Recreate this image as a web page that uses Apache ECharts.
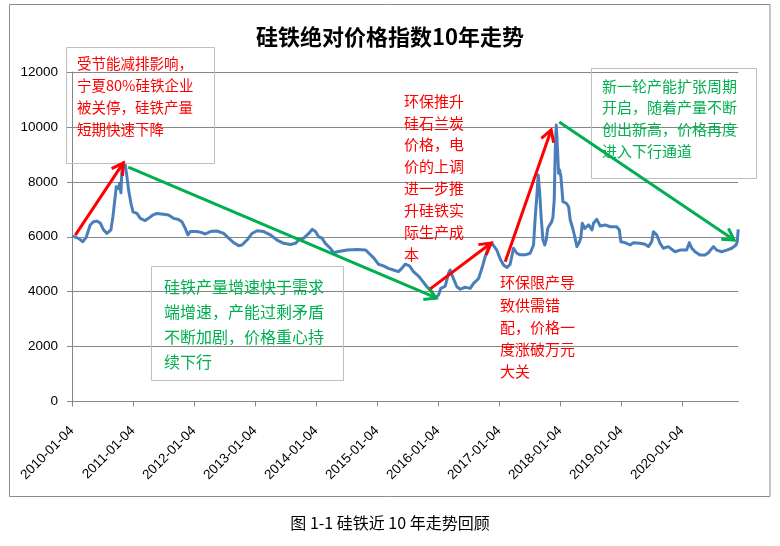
<!DOCTYPE html>
<html><head><meta charset="utf-8">
<script src="https://cdn.jsdelivr.net/npm/echarts@6/dist/echarts.min.js"></script>
<style>html,body{margin:0;padding:0;background:#fff}#c{width:780px;height:546px}</style>
</head><body><div id="c"></div>
<script>
// ---- data ----
const dates = [
'2010-01-04','2010-02-12','2010-03-10','2010-03-30','2010-04-23','2010-05-13','2010-06-02','2010-06-22','2010-07-12','2010-08-01',
'2010-08-25','2010-09-06','2010-09-14','2010-09-22','2010-09-26','2010-10-10','2010-10-16','2010-10-24','2010-10-30','2010-11-09',
'2010-11-19','2010-11-29','2010-12-09','2010-12-23','2011-01-04','2011-01-28','2011-02-17','2011-03-18','2011-04-07','2011-05-03',
'2011-05-27','2011-07-06','2011-08-05','2011-09-04','2011-10-04','2011-10-24','2011-11-13','2011-11-29','2011-12-13','2012-01-22',
'2012-02-21','2012-03-12','2012-04-11','2012-05-21','2012-06-30','2012-07-30','2012-08-29','2012-09-28','2012-10-18','2012-11-17',
'2012-12-17','2013-01-16','2013-02-25','2013-04-06','2013-05-16','2013-06-25','2013-08-04','2013-09-03','2013-09-23','2013-10-23',
'2013-11-22','2013-12-12','2014-01-01','2014-01-20','2014-02-09','2014-03-01','2014-03-31','2014-04-20','2014-05-20','2014-07-09',
'2014-09-08','2014-10-28','2014-11-17','2014-12-17','2015-01-13','2015-02-12','2015-03-14','2015-04-13','2015-05-13','2015-06-02',
'2015-06-22','2015-07-18','2015-08-11','2015-09-10','2015-09-30','2015-10-30','2015-11-29','2015-12-19','2016-01-08','2016-01-22',
'2016-02-17','2016-03-08','2016-03-18','2016-03-28','2016-04-07','2016-04-27','2016-05-17','2016-06-16','2016-07-16','2016-08-05',
'2016-09-04','2016-09-24','2016-10-14','2016-11-03','2016-11-22','2016-12-23','2017-01-11','2017-01-31','2017-02-21','2017-03-12',
'2017-04-01','2017-04-21','2017-05-11','2017-06-10','2017-07-10','2017-07-30','2017-08-09','2017-08-19','2017-08-27','2017-09-05',
'2017-09-14','2017-09-24','2017-10-05','2017-10-14','2017-10-23','2017-11-04','2017-11-16','2017-11-23','2017-12-01','2017-12-07',
'2017-12-13','2017-12-21','2017-12-27','2018-01-02','2018-01-10','2018-01-22','2018-02-11','2018-02-25','2018-03-07','2018-03-22',
'2018-04-03','2018-04-16','2018-04-30','2018-05-09','2018-05-18','2018-06-02','2018-06-11','2018-06-25','2018-07-15','2018-07-24',
'2018-08-13','2018-09-02','2018-10-02','2018-11-01','2018-12-10','2018-12-26','2019-01-04','2019-01-29','2019-02-28','2019-03-20',
'2019-04-29','2019-05-29','2019-06-18','2019-07-08','2019-07-18','2019-08-07','2019-08-27','2019-09-15','2019-10-15','2019-11-24',
'2019-12-24','2020-02-02','2020-02-18','2020-03-04','2020-03-23','2020-04-22','2020-05-22','2020-06-11','2020-07-11','2020-07-31',
'2020-08-30','2020-09-29','2020-10-29','2020-11-24','2020-12-01','2020-12-07'
];
const values = [
6030,5940,5820,5980,6430,6550,6570,6500,6250,6120,
6250,6730,7160,7580,7820,7760,7950,7600,8430,8700,
8610,8190,7700,7220,6910,6850,6670,6590,6670,6790,
6850,6820,6790,6670,6630,6550,6310,6070,6190,6190,
6150,6100,6190,6210,6120,5950,5790,5670,5700,5880,
6120,6220,6190,6070,5880,5760,5720,5760,5880,5950,
6120,6270,6190,6000,5950,5760,5580,5420,5460,5520,
5540,5520,5400,5220,5000,4940,4850,4790,4730,4850,
5000,4940,4730,4570,4420,4180,4000,3760,3880,4120,
4200,4670,4790,4610,4540,4180,4090,4160,4120,4300,
4480,4850,5280,5640,5770,5500,5200,4970,4880,5000,
5580,5400,5340,5340,5400,5700,6700,7500,8250,7600,
6700,5900,5700,5880,6300,6430,6550,6700,7340,9160,
10070,9160,8310,8430,8190,7280,7220,7100,6610,6300,
6000,5640,5800,5950,6490,6300,6250,6430,6250,6490,
6635,6390,6430,6365,6365,6245,5820,5785,5700,5785,
5760,5725,5640,5820,6185,6065,5760,5580,5640,5455,
5515,5515,5785,5580,5455,5335,5335,5420,5640,5515,
5455,5515,5580,5700,5820,6270
];
const xTickLabels = ['2010-01-04','2011-01-04','2012-01-04','2013-01-04','2014-01-04','2015-01-04',
                     '2016-01-04','2017-01-04','2018-01-04','2019-01-04','2020-01-04'];
const titleText = '硅铁绝对价格指数10年走势';
const captionText = '图 1-1 硅铁近 10 年走势回顾';

// ---- helpers ----
const DAY = 86400000, T0 = Date.UTC(2010, 0, 4);
function toT(d){ const p = d.split('-').map(Number); return (Date.UTC(p[0], p[1]-1, p[2]) - T0) / (365.25*DAY); }
const seriesData = dates.map((d, i) => [toT(d), values[i]]);
const tickValues = xTickLabels.map((s, i) => i);

const FONT = "'Noto Sans CJK SC', sans-serif";
const RED = '#ff0000', GREEN = '#00b050';

const chart = echarts.init(document.getElementById('c'), null, {renderer: 'canvas'});
const option = {
  backgroundColor: '#fff',
  animation: false,
  title: {
    text: titleText, left: 'center', top: 26, padding: 0,
    textStyle: {fontSize: 22, fontWeight: 'bold', color: '#000', fontFamily: FONT}
  },
  grid: {left: 72, right: 41.7, top: 72, bottom: 144.5, containLabel: false},
  xAxis: {
    type: 'value', min: 0, max: 10.925, interval: 1,
    axisLine: {show: true, lineStyle: {color: '#868686', width: 1}},
    axisTick: {show: true, length: 5, lineStyle: {color: '#868686'}, customValues: tickValues},
    axisLabel: {
      customValues: tickValues, rotate: 45, margin: 27, fontSize: 13.5, color: '#000',
      fontFamily: "'Liberation Sans', Arial, sans-serif",
      formatter: v => xTickLabels[Math.round(v)] || ''
    },
    splitLine: {show: false}
  },
  yAxis: {
    type: 'value', min: 0, max: 12000, interval: 2000,
    axisLine: {show: true, lineStyle: {color: '#868686', width: 1}},
    axisTick: {show: true, length: 5, lineStyle: {color: '#868686'}},
    axisLabel: {margin: 14, fontSize: 13.5, color: '#000', fontFamily: "'Liberation Sans', Arial, sans-serif",
      formatter: v => String(v)},
    splitLine: {show: true, lineStyle: {color: '#868686', width: 1}}
  },
  series: [{
    type: 'line', data: seriesData, showSymbol: false, symbol: 'none',
    lineStyle: {color: '#4a7ebb', width: 3, join: 'round'}, z: 3
  }]
};
chart.setOption(option);

// ---- annotations ----
const arrows = [
  {from: [0.054, 6060], to: [0.841, 8690], color: RED},
  {from: [0.923, 8540], to: [5.972, 3770], color: GREEN},
  {from: [5.874, 4100], to: [6.874, 5770], color: RED},
  {from: [7.103, 5090], to: [7.857, 9890], color: RED},
  {from: [7.989, 10180], to: [10.857, 5880], color: GREEN}
];
const graphics = [];
graphics.push({type: 'rect', shape: {x: 9.5, y: 4.5, width: 760.5, height: 492}, style: {fill: 'none', stroke: '#8c8c8c', lineWidth: 1}, z: 1});
arrows.forEach(a => {
  const s = chart.convertToPixel({gridIndex: 0}, a.from);
  const p = chart.convertToPixel({gridIndex: 0}, a.to);
  const dx = p[0]-s[0], dy = p[1]-s[1], L = Math.hypot(dx, dy);
  const ux = dx/L, uy = dy/L, hl = 13, ang = Math.PI/6;
  const h = sgn => {
    const c = Math.cos(sgn*ang), sn = Math.sin(sgn*ang);
    const rx = ux*c - uy*sn, ry = ux*sn + uy*c;
    return [p[0] - hl*rx, p[1] - hl*ry];
  };
  graphics.push({type: 'polyline', shape: {points: [s, p]}, style: {stroke: a.color, lineWidth: 3, fill: null}, z: 10});
  graphics.push({type: 'polyline', shape: {points: [h(1), p, h(-1)]}, style: {stroke: a.color, lineWidth: 3, fill: null, lineJoin: 'miter'}, z: 10});
});
const boxes = [
  {x: 66.5, y: 47.5, w: 148, h: 116},
  {x: 151.5, y: 266.5, w: 192, h: 114},
  {x: 591.5, y: 68.5, w: 165, h: 110}
];
boxes.forEach(b => graphics.push({type: 'rect', shape: {x: b.x, y: b.y, width: b.w, height: b.h}, style: {fill: 'none', stroke: '#bfbfbf', lineWidth: 1}, z: 8}));
const notes = [
  {x: 77, y: 52, fs: 14.5, lh: 22, color: RED, text: '受节能减排影响，\n宁夏80%硅铁企业\n被关停，硅铁产量\n短期快速下降'},
  {x: 164, y: 275, fs: 16, lh: 24.7, color: GREEN, text: '硅铁产量增速快于需求\n端增速，产能过剩矛盾\n不断加剧，价格重心持\n续下行'},
  {x: 404, y: 90, fs: 15, lh: 21.9, color: RED, text: '环保推升\n硅石兰炭\n价格，电\n价的上调\n进一步推\n升硅铁实\n际生产成\n本'},
  {x: 500, y: 271.5, fs: 15, lh: 22.2, color: RED, text: '环保限产导\n致供需错\n配，价格一\n度涨破万元\n大关'},
  {x: 602, y: 75, fs: 15, lh: 21.7, color: GREEN, text: '新一轮产能扩张周期\n开启，随着产量不断\n创出新高，价格再度\n进入下行通道'}
];
notes.forEach(n => graphics.push({type: 'text', x: n.x, y: n.y, z: 12, style: {
  text: n.text, fill: n.color, fontSize: n.fs, lineHeight: n.lh, fontFamily: FONT,
  textAlign: 'left', textVerticalAlign: 'top'
}}));
graphics.push({type: 'text', x: 390, y: 523, z: 12, style: {
  text: captionText, fill: '#000', fontSize: 16, fontFamily: FONT, textAlign: 'center', textVerticalAlign: 'middle'
}});
chart.setOption({graphic: graphics});
</script>
</body></html>
